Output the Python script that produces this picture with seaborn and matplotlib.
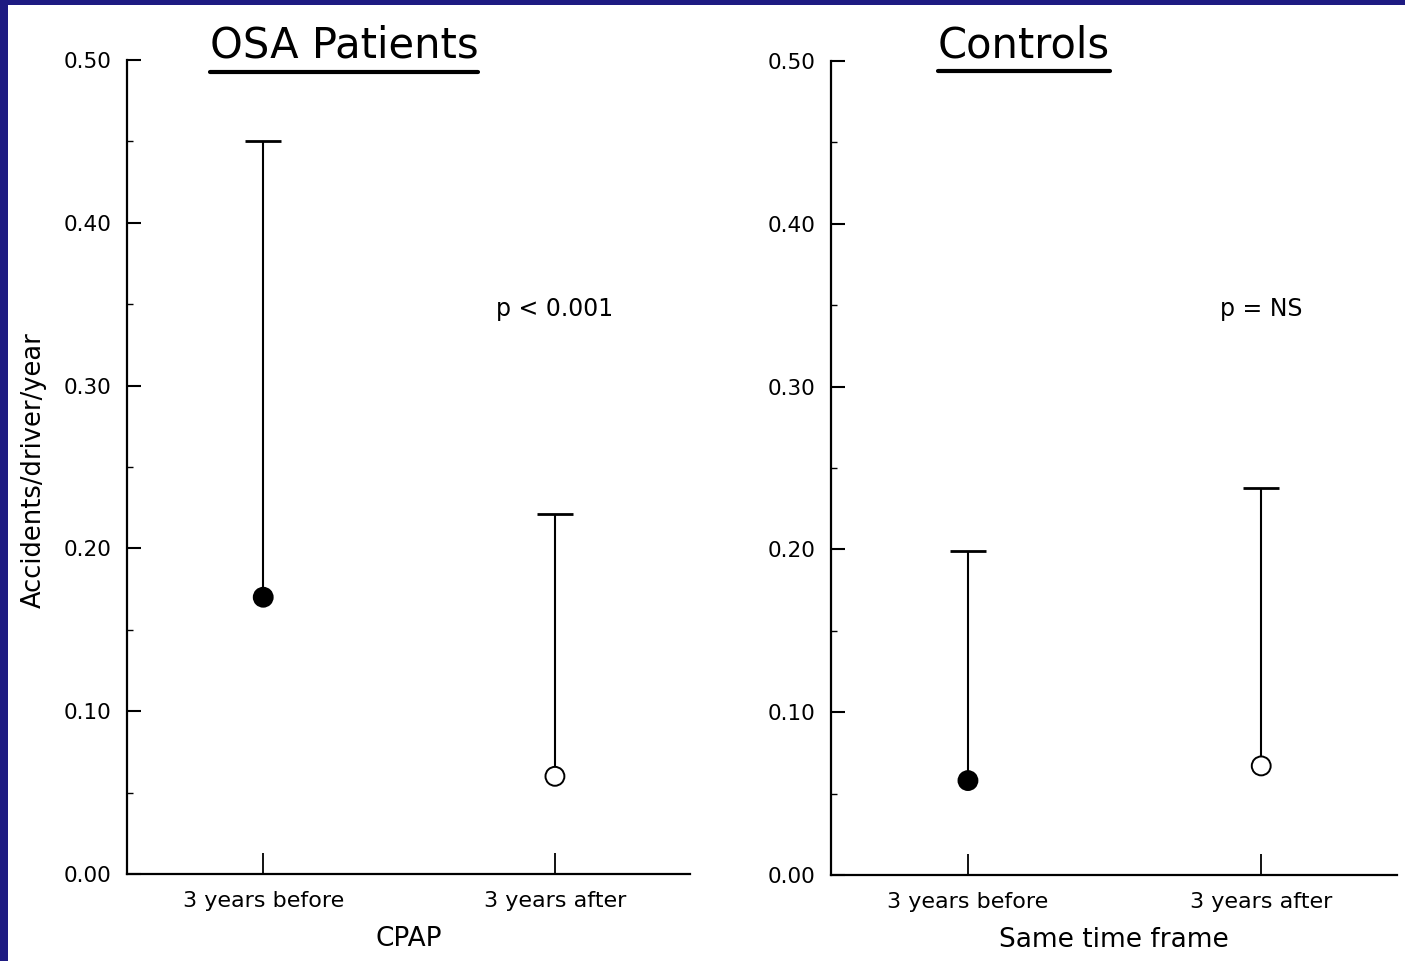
import matplotlib
matplotlib.use("Agg")
import matplotlib.pyplot as plt
from matplotlib.patches import Rectangle
from matplotlib.lines import Line2D
from matplotlib.ticker import MultipleLocator, FormatStrFormatter
import seaborn as sns
import pandas as pd
import numpy as np

# ---- data ----
categories = ["3 years before", "3 years after"]
osa_means = [0.17, 0.06]
osa_upper = [0.45, 0.221]
ctrl_means = [0.058, 0.067]
ctrl_upper = [0.199, 0.238]
panel_titles = ["OSA Patients", "Controls"]
panel_xlabels = ["CPAP", "Same time frame"]
panel_ptext = ["p < 0.001", "p = NS"]
panel_pval_y = [0.343, 0.3435]
ylabel = "Accidents/driver/year"
yticks = [0.0, 0.1, 0.2, 0.3, 0.4, 0.5]

sns.set_style("white")
plt.rcParams["font.family"] = ["DejaVu Sans"]
plt.rcParams["text.color"] = "black"
plt.rcParams["axes.labelcolor"] = "black"
plt.rcParams["xtick.color"] = "black"
plt.rcParams["ytick.color"] = "black"

W, H = 1405, 961
NAVY = "#1e1b82"
fig = plt.figure(figsize=(W / 100, H / 100), dpi=100, facecolor=NAVY)
fig.patches.append(Rectangle((8 / W, 0), 1 - 8 / W, 1 - 5 / H, transform=fig.transFigure,
                             facecolor="white", edgecolor="none", zorder=-10))

ax1 = fig.add_axes([127 / W, 1 - 874 / H, (690 - 127) / W, (874 - 60) / H])
ax2 = fig.add_axes([831 / W, 1 - 875 / H, (1397 - 831) / W, (875 - 61) / H])

panels = [(ax1, osa_means, osa_upper), (ax2, ctrl_means, ctrl_upper)]
for i, (ax, means, upper) in enumerate(panels):
    ax.set_zorder(5)
    ax.patch.set_visible(False)
    pos = list(range(len(categories)))
    df = pd.DataFrame({"pos": pos, "mean": means, "upper": upper, "period": categories})
    eb = ax.errorbar(df["pos"], df["mean"],
                     yerr=[[0] * len(df), (df["upper"] - df["mean"]).tolist()],
                     fmt="none", ecolor="black", elinewidth=1.5, capsize=13, capthick=2.0, zorder=2)
    # keep only the upper caps
    for cap in eb[1]:
        if np.allclose(np.asarray(cap.get_ydata(), dtype=float), df["mean"].values):
            cap.set_visible(False)
    sns.scatterplot(data=df, x="pos", y="mean", hue="period",
                    palette={categories[0]: "black", categories[1]: "white"},
                    edgecolor="black", linewidth=1.4, s=185, legend=False, ax=ax, zorder=3)
    ax.set_xlim(-0.467, 1.463)
    ax.set_ylim(0, 0.5)
    ax.set_xticks(pos)
    ax.set_xticklabels(categories, fontsize=16)
    ax.set_yticks(yticks)
    ax.yaxis.set_major_formatter(FormatStrFormatter("%.2f"))
    ax.yaxis.set_minor_locator(MultipleLocator(0.05))
    ax.tick_params(axis="y", which="major", direction="in", length=10, width=1.5,
                   labelsize=15.5, pad=11, left=True)
    ax.tick_params(axis="y", which="minor", direction="in", length=4, width=1.0, left=True)
    ax.tick_params(axis="x", which="major", direction="in", length=15, width=1.3,
                   labelsize=16, pad=12, bottom=True)
    for s in ["top", "right"]:
        ax.spines[s].set_visible(False)
    for s in ["left", "bottom"]:
        ax.spines[s].set_linewidth(1.6)
        ax.spines[s].set_color("black")
    ax.set_xlabel(panel_xlabels[i], fontsize=19, labelpad=11)
    ax.set_ylabel("")
    ax.text(1.0, panel_pval_y[i], panel_ptext[i], ha="center", va="baseline", fontsize=17)

fig.text(34 / W, 1 - 470 / H, ylabel, rotation=90, ha="center", va="center", fontsize=18.5)

# titles with underline
title_specs = [(344, 58), (1024, 57)]
title_objs = []
for t, (cx, by) in zip(panel_titles, title_specs):
    title_objs.append(fig.text(cx / W, 1 - by / H, t, ha="center", va="baseline", fontsize=30))

fig.canvas.draw()
r = fig.canvas.get_renderer()
for tobj, (cx, by) in zip(title_objs, title_specs):
    bb = tobj.get_window_extent(renderer=r)
    yline = 1 - (by + 14) / H
    fig.lines.append(Line2D([bb.x0 / W, bb.x1 / W], [yline, yline], transform=fig.transFigure,
                            color="black", linewidth=3.0))

fig.savefig("out.png", dpi=100, facecolor=NAVY)
